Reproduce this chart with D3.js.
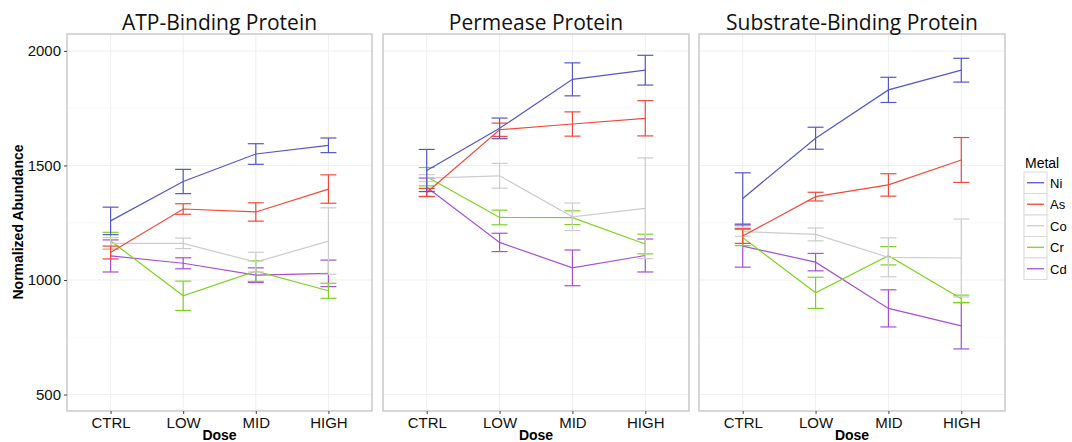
<!DOCTYPE html>
<html><head><meta charset="utf-8">
<script src="https://cdn.jsdelivr.net/npm/d3@7"></script>
<style>body{margin:0;background:#fff}svg{display:block}</style>
</head><body>
<svg id="c" width="1072" height="442"></svg>
<script>
const doses = ["CTRL","LOW","MID","HIGH"];
const metals = ["Ni","As","Co","Cr","Cd"];
const panels = ["ATP-Binding Protein","Permease Protein","Substrate-Binding Protein"];
const yTicks = [500,1000,1500,2000];
const colors = ["#5656c8","#f0493b","#cccccc","#7ed321","#a550d5"];
// mean values [panel][metal][dose]
const atpMean = [[1258,1430,1550,1588],[1120,1310,1297,1397],[1160,1160,1078,1170],[1171,931,1039,953],[1105,1073,1021,1029]];
const atpErr  = [[60,53,45,32],[28,23,40,62],[25,23,43,145],[37,64,45,33],[70,24,32,58]];
const perMean = [[1478,1662,1876,1916],[1382,1656,1681,1706],[1445,1455,1276,1313],[1451,1273,1272,1157],[1405,1164,1053,1107]];
const perErr  = [[92,45,72,65],[18,29,53,77],[15,54,60,220],[40,32,30,43],[40,40,78,72]];
const subMean = [[1356,1619,1830,1916],[1192,1364,1415,1524],[1211,1199,1099,1096],[1185,944,1106,918],[1148,1078,876,800]];
const subErr  = [[112,48,55,52],[32,19,49,98],[20,28,85,170],[35,68,40,16],[92,38,81,101]];
const means = [atpMean, perMean, subMean];
const errs = [atpErr, perErr, subErr];

const svg = d3.select("#c");
const pTop = 34, pBottom = 411;
const panelX = [[67,372],[383,689],[699,1005]];
const y = d3.scaleLinear().domain([428,2074]).range([pBottom, pTop]);
const font = "'Liberation Sans', Arial, Helvetica, sans-serif";

panels.forEach((title, p) => {
  const [x0, x1] = panelX[p];
  const x = d3.scalePoint().domain(doses).range([x0, x1]).padding(0.6);
  const g = svg.append("g");
  g.append("rect").attr("x", x0).attr("y", pTop).attr("width", x1-x0).attr("height", pBottom-pTop).attr("fill","#fff");
  const minor = [750,1250,1750];
  g.selectAll(".mg").data(minor).enter().append("line")
    .attr("x1",x0).attr("x2",x1).attr("y1",d=>y(d)).attr("y2",d=>y(d))
    .attr("stroke","#f7f7f7").attr("stroke-width",0.8);
  g.selectAll(".yg").data(yTicks).enter().append("line")
    .attr("x1",x0).attr("x2",x1).attr("y1",d=>y(d)).attr("y2",d=>y(d))
    .attr("stroke","#efefef").attr("stroke-width",1);
  g.selectAll(".xg").data(doses).enter().append("line")
    .attr("x1",d=>x(d)).attr("x2",d=>x(d)).attr("y1",pTop).attr("y2",pBottom)
    .attr("stroke","#efefef").attr("stroke-width",1);
  metals.map((m,i)=>i).reverse().forEach(i => {
    const mean = means[p][i], err = errs[p][i];
    const pts = doses.map((d,j)=>({d, v:mean[j], e:err[j]}));
    const col = colors[i];
    const eg = g.append("g").attr("stroke", col).attr("fill","none").attr("stroke-width",1.2);
    pts.forEach(pt => {
      const cx = x(pt.d);
      eg.append("line").attr("x1",cx).attr("x2",cx).attr("y1",y(pt.v-pt.e)).attr("y2",y(pt.v+pt.e));
      eg.append("line").attr("x1",cx-8).attr("x2",cx+8).attr("y1",y(pt.v-pt.e)).attr("y2",y(pt.v-pt.e));
      eg.append("line").attr("x1",cx-8).attr("x2",cx+8).attr("y1",y(pt.v+pt.e)).attr("y2",y(pt.v+pt.e));
    });
    g.append("path").datum(pts)
      .attr("d", d3.line().x(d=>x(d.d)).y(d=>y(d.v)))
      .attr("fill","none").attr("stroke",col).attr("stroke-width",1.2);
  });
  g.append("rect").attr("x", x0).attr("y", pTop).attr("width", x1-x0).attr("height", pBottom-pTop)
    .attr("fill","none").attr("stroke","#bdbdbd").attr("stroke-width",1.2);
  const xa = svg.append("g").attr("transform",`translate(0,${pBottom})`)
    .call(d3.axisBottom(x).tickSize(3).tickPadding(3));
  xa.attr("font-family", font).attr("font-size", 15);
  xa.select(".domain").remove();
  xa.selectAll("line").attr("stroke","#444");
  xa.selectAll("text").style("font-family",font).attr("font-size",15).attr("fill","#111");
  svg.append("text").attr("x",(x0+x1)/2).attr("y",440).attr("text-anchor","middle")
    .style("font-family",font).attr("font-weight","bold").attr("font-size",14).text("Dose");
  svg.append("text").attr("x",(x0+x1)/2).attr("y",30).attr("text-anchor","middle")
    .style("font-family","'Open Sans', sans-serif").attr("font-size",21).attr("fill","#111").text(title);
});

const ya = svg.append("g").attr("transform",`translate(${panelX[0][0]},0)`)
  .call(d3.axisLeft(y).tickValues(yTicks).tickFormat(d3.format("d")).tickSize(3).tickPadding(3));
ya.attr("font-family", font).attr("font-size", 15);
ya.select(".domain").remove();
ya.selectAll("line").attr("stroke","#444");
ya.selectAll("text").style("font-family",font).attr("font-size",15).attr("fill","#111");
svg.append("text").attr("transform","translate(23,222) rotate(-90)").attr("text-anchor","middle")
  .style("font-family",font).attr("font-weight","bold").attr("font-size",14).text("Normalized Abundance");

const lg = svg.append("g").attr("transform","translate(1024,0)");
lg.append("text").attr("x",1).attr("y",168).style("font-family",font).attr("font-size",14).text("Metal");
metals.forEach((m,i) => {
  const ry = 172 + i*21.5;
  lg.append("rect").attr("x",0).attr("y",ry).attr("width",23).attr("height",21.5)
    .attr("fill","#fff").attr("stroke","#d9d9d9").attr("stroke-width",1);
  lg.append("line").attr("x1",3).attr("x2",20).attr("y1",ry+10.75).attr("y2",ry+10.75)
    .attr("stroke",colors[i]).attr("stroke-width",1.3);
  lg.append("text").attr("x",26).attr("y",ry+15.5).style("font-family",font).attr("font-size",13).text(m);
});
</script>
</body></html>
